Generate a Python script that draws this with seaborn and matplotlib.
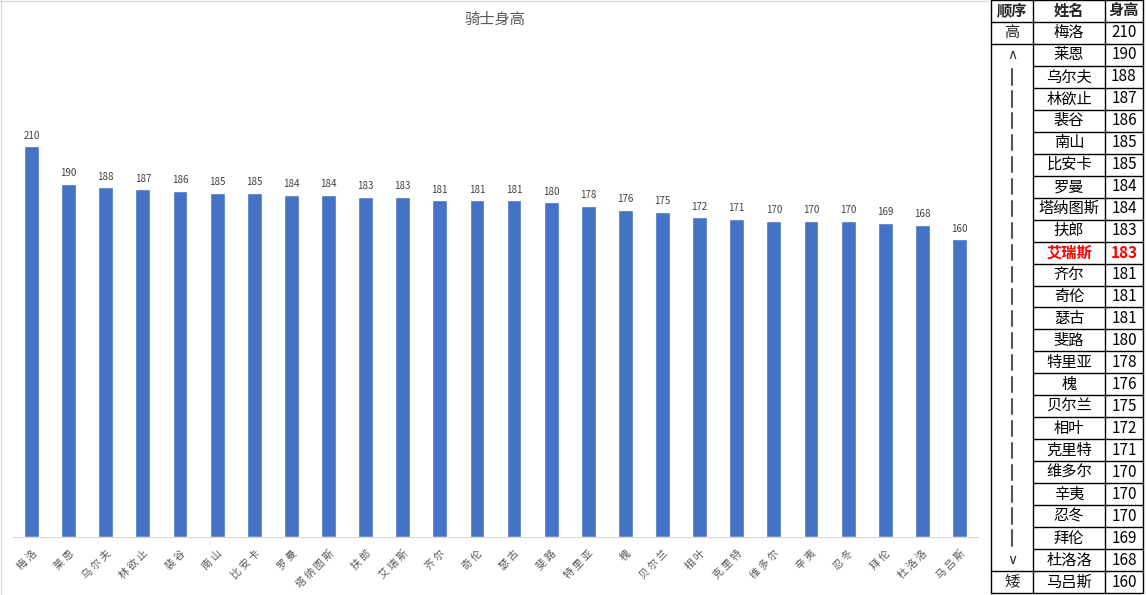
import seaborn as sns
import matplotlib.pyplot as plt

# 数据
names = ['梅洛', '莱恩', '乌尔夫', '林欲止', '裴谷', '南山', '比安卡', '罗曼', '塔纳图斯',
         '扶郎', '艾瑞斯', '齐尔', '奇伦', '瑟古', '斐路', '特里亚', '槐', '贝尔兰', '相叶',
         '克里特', '维多尔', '辛夷', '忍冬', '拜伦', '杜洛洛', '马吕斯']
heights = [210, 190, 188, 187, 186, 185, 185, 184, 184, 183, 183, 181, 181, 181, 180,
           178, 176, 175, 172, 171, 170, 170, 170, 169, 168, 160]
highlight = '艾瑞斯'
headers = ['顺序', '姓名', '身高']

sns.set_style('white')
plt.rcParams['font.family'] = ['Noto Sans CJK SC', 'DejaVu Sans']

W, H = 1146, 595
fig = plt.figure(figsize=(W / 100, H / 100), dpi=100)

# 柱状图
ax = fig.add_axes([13 / W, 58 / H, (978 - 13) / W, (537 - 72) / H])
sns.barplot(x=names, y=heights, color='#4472C4', width=0.4, saturation=1, ax=ax)
ax.set_ylim(0, 250)
ax.set_xlim(-0.5, len(names) - 0.5)
ax.bar_label(ax.containers[0], fontsize=7, color='#404040', padding=4)
ax.set_yticks([])
ax.set_xlabel('')
ax.set_ylabel('')
for s in ['left', 'right', 'top']:
    ax.spines[s].set_visible(False)
ax.spines['bottom'].set_color('#d9d9d9')
# 字间距稍宽
ax.set_xticks(range(len(names)))
ax.set_xticklabels([' '.join(n) for n in names])
ax.tick_params(axis='x', length=0, pad=8, labelsize=7.5, labelcolor='#595959')
plt.setp(ax.get_xticklabels(), rotation=45, ha='right', rotation_mode='anchor')

fig.text(495 / W, 1 - 19 / H, '骑士身高', ha='center', va='center', fontsize=11, color='#595959')

# 图表边框
fig.add_artist(plt.Line2D([1 / W, 1 / W], [0, 1], color='#d9d9d9', lw=1))
fig.add_artist(plt.Line2D([0, 988 / W], [1 - 0.5 / H, 1 - 0.5 / H], color='#d9d9d9', lw=1))

# 右侧表格
tx0, tx1 = 991, 1143
cols = [0, 1033 - tx0, 1105 - tx0, tx1 - tx0]
nrows = len(names) + 1
tab = fig.add_axes([tx0 / W, 1 - 593 / H, (tx1 - tx0) / W, 593 / H])
tab.set_xlim(0, cols[-1])
tab.set_ylim(nrows, 0)
tab.axis('off')

order = ['高'] + ['∧'] + ['|'] * (len(names) - 4) + ['∨'] + ['矮']

lw = 1
for c in cols:
    tab.plot([c, c], [0, nrows], color='black', lw=lw, clip_on=False)
for r in range(nrows + 1):
    if 2 < r < nrows - 1:
        tab.plot([cols[1], cols[3]], [r, r], color='black', lw=lw, clip_on=False)
    else:
        tab.plot([cols[0], cols[3]], [r, r], color='black', lw=lw, clip_on=False)

centers = [(cols[i] + cols[i + 1]) / 2 for i in range(3)]
for i, h in enumerate(headers):
    tab.text(centers[i], 0.5, h, ha='center', va='center', fontsize=11, fontweight='bold')

for i, (n, v) in enumerate(zip(names, heights)):
    y = i + 1.5
    red = n == highlight
    kw = dict(ha='center', va='center', fontsize=11,
              color='red' if red else 'black', fontweight='bold' if red else 'normal')
    tab.text(centers[1], y, n, **kw)
    tab.text(centers[2], y, str(v), **kw)
    o = order[i]
    if o == '|':
        tab.plot([centers[0], centers[0]], [y - 0.35, y + 0.35], color='#555555', lw=1.5)
    elif o in '高矮':
        tab.text(centers[0], y, o, ha='center', va='center', fontsize=11)
    else:
        tab.text(centers[0], y, o, ha='center', va='center', fontsize=10,
                 color='#333333', family='DejaVu Sans')

fig.savefig('out.png', dpi=100)
